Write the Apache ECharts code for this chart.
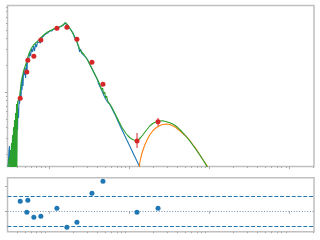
<!DOCTYPE html>
<html><head><meta charset="utf-8">
<script src="https://cdn.jsdelivr.net/npm/echarts@6/dist/echarts.min.js"></script>
<style>html,body{margin:0;padding:0;background:#fff}#c{width:320px;height:240px}</style>
</head><body><div id="c"></div>
<script>
// Stellar model spectrum (blue)
const blueX = [0.3029,0.3162,0.3209,0.3255,0.3303,0.3399,0.3447,0.3499,0.3548,0.3601,0.3652,0.3706,0.3815,0.3869,0.3926,0.3981,0.4041,0.4097,0.4159,0.4217,0.4281,0.4406,0.4467,0.4535,0.4597,0.4667,0.4732,0.4804,0.4944,0.5012,0.5089,0.5238,0.5309,0.5391,0.5548,0.5711,0.5871,0.6045,0.6219,0.6402,0.6588,0.6780,0.6978,0.7180,0.7604,0.7830,0.8058,0.8537,0.8786,0.9042,0.9577,1.0145,1.0746,1.1383,1.2057,1.2772,1.3529,1.4330,1.5180,1.5624,1.6079,1.6548,1.7032,1.7530,1.8041,1.9110,2.0243,2.0826,2.1443,2.2067,2.2714,2.3375,2.4060,2.4756,2.5486,2.6996,2.8596,3.0291,3.2086,3.3988,3.6002,3.8136,4.0396,4.157,4.2790,4.404,4.5326,4.8012,5.0857,5.3871,5.7064,6.0446,6.4028,6.7823,7.6100,8.787,10.145,11.715,13.529,14.330];
const blueY = [0.1026,0.2230,0.2472,0.1513,0.1026,0.2230,0.1722,0.2888,0.3121,0.2230,0.1168,0.2538,0.4484,0.2888,0.3939,0.5515,0.3741,0.6610,0.5103,0.8130,0.7330,1.053,0.8130,1.364,1.053,1.553,1.168,1.678,1.553,1.861,1.437,2.117,1.678,2.410,2.173,2.815,2.538,3.042,2.815,3.287,2.888,3.462,3.203,3.646,3.839,3.553,4.044,4.258,4.044,4.485,4.602,4.846,4.846,5.104,5.104,5.237,5.374,5.515,5.659,5.961,6.117,5.808,5.659,5.374,5.237,4.846,4.485,4.044,4.150,3.839,3.462,3.203,2.815,3.042,2.743,2.604,2.473,2.289,2.064,1.861,1.678,1.513,1.364,1.230,1.230,1.109,1.053,0.9253,0.8344,0.7720,0.7330,0.6610,0.5960,0.5374,0.4257,0.3246,0.2472,0.1885,0.1437,0.1295];
// Total model (green)
const greenX = [0.3029,0.3209,0.3255,0.3303,0.3350,0.3399,0.3447,0.3499,0.3548,0.3601,0.3652,0.3706,0.3758,0.3815,0.3869,0.3926,0.3959,0.4041,0.4159,0.4281,0.4406,0.4535,0.4667,0.4804,0.4944,0.5089,0.5238,0.5391,0.5548,0.5711,0.6045,0.6402,0.6780,0.7180,0.7604,0.8058,0.8537,0.9042,0.9577,1.0145,1.0746,1.1383,1.2057,1.2772,1.3529,1.4330,1.5180,1.6079,1.6548,1.7032,1.8041,1.9110,2.0243,2.1443,2.2714,2.4060,2.5486,2.6996,2.8596,3.0291,3.2086,3.3988,3.6002,3.8136,4.0396,4.2790,4.404,4.5326,4.665,4.8012,4.941,5.0857,5.234,5.3871,5.544,5.7064,5.873,6.0446,6.221,6.4028,6.7823,7.1842,7.6100,8.0610,8.5387,9.0447,9.5808,10.145,10.746,11.383,12.057,12.589,13.149,13.924,14.752,16.079,17.032,18.041,19.672,21.443,24.060,26.23,28.59,32.086,36.002,40.396,45.326,50.857,57.064,64.028,71.842,80.610,90.447,95.77,101.45];
const greenY = [0.1329,0.1861,0.1263,0.2230,0.1263,0.2673,0.1263,0.3288,0.1263,0.4044,0.1263,0.4845,0.1329,0.5808,0.1400,0.7330,0.1329,0.7720,0.7523,0.8561,1.109,1.364,1.513,1.722,1.861,2.011,2.173,2.410,2.604,2.815,3.121,3.374,3.553,3.741,3.940,4.150,4.369,4.543,4.723,4.846,4.973,5.104,5.170,5.305,5.374,5.515,5.733,6.039,5.961,5.659,5.237,4.846,4.369,4.044,3.462,3.042,2.815,2.673,2.473,2.289,2.064,1.861,1.678,1.513,1.364,1.230,1.138,1.053,1.109,0.9495,1.000,0.8561,0.9017,0.7924,0.8344,0.7330,0.7523,0.6783,0.6960,0.6116,0.5515,0.4973,0.4484,0.4044,0.3741,0.3463,0.3246,0.3082,0.2964,0.2888,0.2851,0.2851,0.2926,0.3082,0.3288,0.3646,0.3890,0.4149,0.4427,0.4601,0.4722,0.4747,0.4662,0.4507,0.4313,0.3990,0.3598,0.3203,0.2814,0.2441,0.2117,0.1813,0.1532,0.1400,0.1263];
// Dust component (orange)
const orangeX = [13.149,13.529,13.924,14.330,14.88,15.62,17.18,18.041,19.84,21.443,24.060,26.23,29.17,32.086,35.28,38.14,42.79,46.65,51.88,57.064,62.75,67.80,76.10,85.39,93.87,98.57];
const orangeY = [0.1026,0.1593,0.1813,0.2010,0.2230,0.2538,0.3041,0.3288,0.3694,0.3939,0.4204,0.4313,0.4369,0.4313,0.4149,0.3990,0.3673,0.3418,0.3146,0.2851,0.2538,0.2318,0.1959,0.1678,0.1474,0.1329];
// Photometry (red) and residuals
const photX = [0.4365,0.528,0.543,0.6457,0.790,1.252,1.669,2.226,3.428,4.705,12.52,22.9];
const photY = [0.8495,1.678,2.27,2.52,3.84,5.20,5.33,3.91,2.157,1.22,0.2814,0.4637];
const photErrLo = [null,null,null,null,null,null,null,null,null,null,0.235,0.415];
const photErrHi = [null,null,null,null,null,null,null,null,null,null,0.346,0.51];
const residY = [1.98,-0.20,2.17,-1.19,-0.99,0.59,-3.16,-2.17,3.56,5.93,-0.20,0.59];
const residLines = [3, 0, -3];
// Axis ticks (no labels shown in the reference)
const xMajorTicks = [1,10,100,1000];
const xMinorTicks = [0.4,0.5,0.6,0.7,0.8,0.9,2,3,4,5,6,7,8,9,20,30,40,50,60,70,80,90,200,300,400,500,600,700,800,900,2000];
const yMajorTicks = [1];
const yMinorTicks = [0.2,0.3,0.4,0.5,0.6,0.7,0.8,0.9,2,3,4,5,6,7,8,9];
const residTicks = [0,5];

const zip = (a,b) => a.map((v,i)=>[v,b[i]]);
const TICK = '#a8a8a8';
const XMIN = 0.3029, XMAX = 2023, YMIN = 0.1455, YMAX = 9.38;

function logX(grid, ticks, len) {
  return {type:'log', gridIndex:grid, position:'bottom', offset:0, min:XMIN, max:XMAX, axisLine:{show:false},
    axisTick:{show:true, length:len, customValues:ticks, lineStyle:{color:TICK, width:1}},
    axisLabel:{show:false}, splitLine:{show:false}, minorTick:{show:false}};
}
function logY(ticks, len) {
  return {type:'log', gridIndex:0, position:'left', offset:0, min:YMIN, max:YMAX, axisLine:{show:false},
    axisTick:{show:true, length:len, customValues:ticks, lineStyle:{color:TICK, width:1}},
    axisLabel:{show:false}, splitLine:{show:false}};
}

const chart = echarts.init(document.getElementById('c'), null, {renderer:'canvas'});
chart.setOption({
  animation:false,
  backgroundColor:'#fff',
  grid:[
    {left:7.5, top:5.5, width:306.5, height:161, show:true, borderColor:'#c0c0c0', borderWidth:1.5, backgroundColor:'transparent', containLabel:false},
    {left:7.5, top:177.7, width:306.5, height:54, show:true, borderColor:'#c0c0c0', borderWidth:1.5, backgroundColor:'transparent', containLabel:false}
  ],
  xAxis:[
    logX(0, xMajorTicks, 2.5), logX(0, xMinorTicks, 1.5),
    logX(1, xMajorTicks, 2.5), logX(1, xMinorTicks, 1.5)
  ],
  yAxis:[
    logY(yMajorTicks, 2.5), logY(yMinorTicks, 1.5),
    {type:'value', gridIndex:1, position:'left', min:-4.03, max:6.64, axisLine:{show:false},
     axisTick:{show:true, length:2.5, customValues:residTicks, lineStyle:{color:TICK}},
     axisLabel:{show:false}, splitLine:{show:false}}
  ],
  series:[
    {type:'line', xAxisIndex:0, yAxisIndex:0, data:zip(blueX,blueY), symbol:'none', lineStyle:{color:'#1f77b4', width:1.1}, clip:true, z:2},
    {type:'line', xAxisIndex:0, yAxisIndex:0, data:zip(orangeX,orangeY), symbol:'none', lineStyle:{color:'#ff7f0e', width:1.1}, clip:true, z:3},
    {type:'line', xAxisIndex:0, yAxisIndex:0, data:zip(greenX,greenY), symbol:'none', lineStyle:{color:'#2ca02c', width:1.1}, clip:true, z:4},
    {type:'custom', xAxisIndex:0, yAxisIndex:0, z:5,
     data: photX.map((x,i)=>[x, photErrLo[i], photErrHi[i]]).filter(d=>d[1]!=null),
     renderItem:(params, api)=>{
       const p1 = api.coord([api.value(0), api.value(1)]);
       const p2 = api.coord([api.value(0), api.value(2)]);
       return {type:'line', shape:{x1:p1[0], y1:p1[1], x2:p2[0], y2:p2[1]}, style:{stroke:'#d62728', lineWidth:1}};
     }},
    {type:'scatter', xAxisIndex:0, yAxisIndex:0, data:zip(photX,photY), symbol:'circle', symbolSize:5, itemStyle:{color:'#d62728', opacity:1}, z:6},
    {type:'scatter', xAxisIndex:2, yAxisIndex:2, data:zip(photX,residY), symbol:'circle', symbolSize:5, itemStyle:{color:'#1f77b4', opacity:1}, z:6,
     markLine:{silent:true, symbol:'none', label:{show:false},
       data: residLines.map(v=>({yAxis:v, lineStyle:{color: v===0 ? '#6f93b8' : '#1f77b4', width:1, type: v===0 ? [1,1.7] : [4,1.8]}}))}}
  ]
});
</script>
</body></html>
